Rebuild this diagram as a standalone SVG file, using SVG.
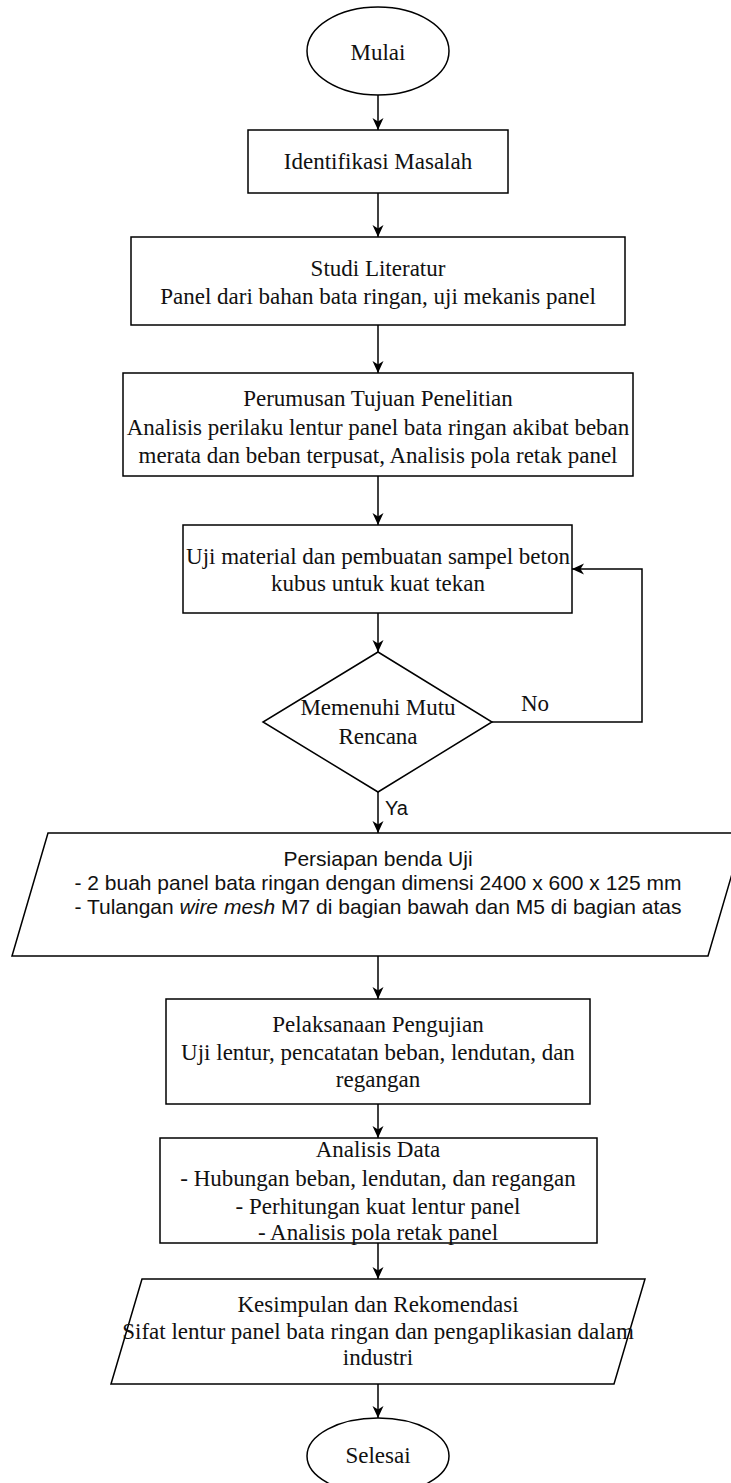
<svg xmlns="http://www.w3.org/2000/svg" width="731" height="1483" viewBox="0 0 731 1483">
<style>
.sh{fill:#fff;stroke:#000;stroke-width:1.5}
.t{font-family:"Liberation Serif","Times New Roman",serif;font-size:23px;fill:#111;text-anchor:middle}
.s{font-family:"Liberation Sans",Arial,sans-serif;font-size:21px;fill:#111;text-anchor:middle}
.c{fill:none;stroke:#000;stroke-width:1.5}
</style>
<defs>
<marker id="ar" markerUnits="userSpaceOnUse" markerWidth="14" markerHeight="14" refX="12" refY="7" orient="auto">
<path d="M0,1.5 L12,7 L0,12.5 L3.5,7 Z" fill="#000"/>
</marker>
</defs>
<rect width="731" height="1483" fill="#fff"/>
<g id="connectors">
<path class="c" d="M378,95 V130" marker-end="url(#ar)"/>
<path class="c" d="M378,193 V237" marker-end="url(#ar)"/>
<path class="c" d="M378,325 V373" marker-end="url(#ar)"/>
<path class="c" d="M378,476 V525" marker-end="url(#ar)"/>
<path class="c" d="M378,613 V652" marker-end="url(#ar)"/>
<path class="c" d="M378,792 V833" marker-end="url(#ar)"/>
<path class="c" d="M492,722 H642 V569 H572" marker-end="url(#ar)"/>
<path class="c" d="M378,956 V999" marker-end="url(#ar)"/>
<path class="c" d="M378,1104 V1138" marker-end="url(#ar)"/>
<path class="c" d="M378,1243 V1279" marker-end="url(#ar)"/>
<path class="c" d="M378,1384 V1418" marker-end="url(#ar)"/>
<text class="t" x="535" y="711">No</text>
<text class="s" x="385" y="815" style="text-anchor:start;font-size:20px">Ya</text>
</g>
<g id="mulai">
<ellipse class="sh" cx="378" cy="51" rx="71" ry="44"/>
<text class="t" x="378" y="60">Mulai</text>
</g>
<g id="identifikasi">
<rect class="sh" x="248" y="130" width="260" height="63"/>
<text class="t" x="378" y="169">Identifikasi Masalah</text>
</g>
<g id="studi">
<rect class="sh" x="131" y="237" width="494" height="88"/>
<text class="t" x="378" y="276">Studi Literatur</text>
<text class="t" x="378" y="304">Panel dari bahan bata ringan, uji mekanis panel</text>
</g>
<g id="perumusan">
<rect class="sh" x="123" y="373" width="510" height="103"/>
<text class="t" x="378" y="406">Perumusan Tujuan Penelitian</text>
<text class="t" x="378" y="435">Analisis perilaku lentur panel bata ringan akibat beban</text>
<text class="t" x="378" y="463">merata dan beban terpusat, Analisis pola retak panel</text>
</g>
<g id="uji">
<rect class="sh" x="183" y="525" width="389" height="88"/>
<text class="t" x="378" y="564">Uji material dan pembuatan sampel beton</text>
<text class="t" x="378" y="591">kubus untuk kuat tekan</text>
</g>
<g id="mutu">
<polygon class="sh" points="378,652 492,722 378,792 263,722"/>
<text class="t" x="378" y="715">Memenuhi Mutu</text>
<text class="t" x="378" y="744">Rencana</text>
</g>
<g id="persiapan">
<polygon class="sh" points="48,833 744,833 708,956 12,956"/>
<text class="s" x="378" y="866">Persiapan benda Uji</text>
<text class="s" x="378" y="890">- 2 buah panel bata ringan dengan dimensi 2400 x 600 x 125 mm</text>
<text class="s" x="378" y="914">- Tulangan <tspan font-style="italic">wire mesh</tspan> M7 di bagian bawah dan M5 di bagian atas</text>
</g>
<g id="pelaksanaan">
<rect class="sh" x="166" y="999" width="424" height="105"/>
<text class="t" x="378" y="1032">Pelaksanaan Pengujian</text>
<text class="t" x="378" y="1060">Uji lentur, pencatatan beban, lendutan, dan</text>
<text class="t" x="378" y="1087">regangan</text>
</g>
<g id="analisis">
<rect class="sh" x="160" y="1138" width="437" height="105"/>
<text class="t" x="378" y="1157">Analisis Data</text>
<text class="t" x="378" y="1186">- Hubungan beban, lendutan, dan regangan</text>
<text class="t" x="378" y="1214">- Perhitungan kuat lentur panel</text>
<text class="t" x="378" y="1240">- Analisis pola retak panel</text>
</g>
<g id="kesimpulan">
<polygon class="sh" points="142,1279 645,1279 614,1384 111,1384"/>
<text class="t" x="378" y="1312">Kesimpulan dan Rekomendasi</text>
<text class="t" x="378" y="1339">Sifat lentur panel bata ringan dan pengaplikasian dalam</text>
<text class="t" x="378" y="1365">industri</text>
</g>
<g id="selesai">
<ellipse class="sh" cx="378" cy="1456" rx="71" ry="38"/>
<text class="t" x="378" y="1463">Selesai</text>
</g>
</svg>
